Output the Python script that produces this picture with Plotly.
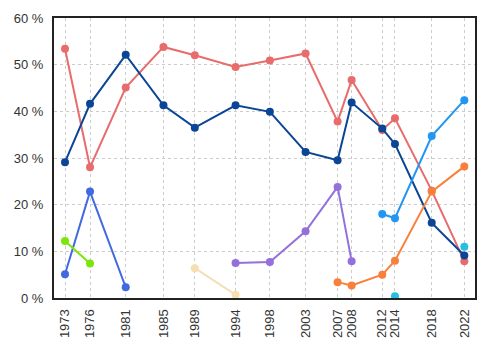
import plotly.graph_objects as go

# x positions (fractional years) and tick labels
tick_pos = [1973.0, 1976.07, 1980.45, 1985.08, 1988.93, 1993.93, 1998.14,
            2002.52, 2006.45, 2008.17, 2011.93, 2013.49, 2018.0, 2022.0]
tick_labels = ["1973", "1976", "1981", "1985", "1989", "1994", "1998",
               "2003", "2007", "2008", "2012", "2014", "2018", "2022"]

red_x = tick_pos
red_y = [53.4, 28.0, 45.1, 53.8, 52.0, 49.5, 50.9, 52.4, 37.8, 46.7, 36.0, 38.5, 23.0, 7.9]

navy_x = tick_pos
navy_y = [29.1, 41.6, 52.1, 41.3, 36.5, 41.3, 39.9, 31.3, 29.5, 41.9, 36.3, 33.0, 16.1, 9.1]

lightblue_x = [2011.93, 2013.49, 2018.0, 2022.0]
lightblue_y = [18.0, 17.1, 34.7, 42.4]

orange_x = [2006.45, 2008.17, 2011.93, 2013.49, 2018.0, 2022.0]
orange_y = [3.4, 2.7, 5.0, 8.0, 22.8, 28.2]

# cyan: 2014 and 2022 only, not consecutive (gap at 2018)
cyan_x = [2013.49, 2018.0, 2022.0]
cyan_y = [0.4, None, 11.0]

royal_x = [1973.0, 1976.07, 1980.45]
royal_y = [5.1, 22.8, 2.3]

green_x = [1973.0, 1976.07]
green_y = [12.2, 7.4]

wheat_x = [1988.93, 1993.93]
wheat_y = [6.4, 0.7]

purple_x = [1993.93, 1998.14, 2002.52, 2006.45, 2008.17]
purple_y = [7.5, 7.7, 14.3, 23.8, 7.9]

series = [
    ("red", red_x, red_y, "#e86c6c"),
    ("navy", navy_x, navy_y, "#0b4595"),
    ("lightblue", lightblue_x, lightblue_y, "#2196f3"),
    ("orange", orange_x, orange_y, "#f9803a"),
    ("cyan", cyan_x, cyan_y, "#26bfe0"),
    ("royal", royal_x, royal_y, "#4169e1"),
    ("green", green_x, green_y, "#7ce60a"),
    ("wheat", wheat_x, wheat_y, "#f5deb3"),
    ("purple", purple_x, purple_y, "#9370db"),
]

fig = go.Figure()
for name, xs, ys, col in series:
    fig.add_trace(go.Scatter(
        x=xs, y=ys, name=name, mode="lines+markers",
        line=dict(color=col, width=2),
        marker=dict(color=col, size=8),
        connectgaps=False,
        showlegend=False, hoverinfo="skip",
    ))

fig.update_layout(
    width=500, height=350,
    margin=dict(l=54, r=25, t=18, b=52),
    paper_bgcolor="white", plot_bgcolor="white",
    font=dict(family="Liberation Sans, Arial, sans-serif", size=13, color="#333333"),
)
fig.update_xaxes(
    range=[1971.65, 2023.31],
    tickmode="array", tickvals=tick_pos, ticktext=tick_labels,
    tickangle=-90,
    showgrid=True, gridcolor="#cccccc", griddash="dot", gridwidth=1,
    showline=True, linecolor="#222222", linewidth=2, mirror=True,
    ticks="", ticklabelstandoff=4,
    zeroline=False,
)
fig.update_yaxes(
    range=[0, 60],
    tickmode="array", tickvals=[0, 10, 20, 30, 40, 50, 60],
    ticktext=["0 %", "10 %", "20 %", "30 %", "40 %", "50 %", "60 %"],
    showgrid=True, gridcolor="#cccccc", griddash="dot", gridwidth=1,
    showline=True, linecolor="#222222", linewidth=2, mirror=True,
    ticks="", ticklabelstandoff=6,
    zeroline=False,
)

fig.write_html("out.html")
